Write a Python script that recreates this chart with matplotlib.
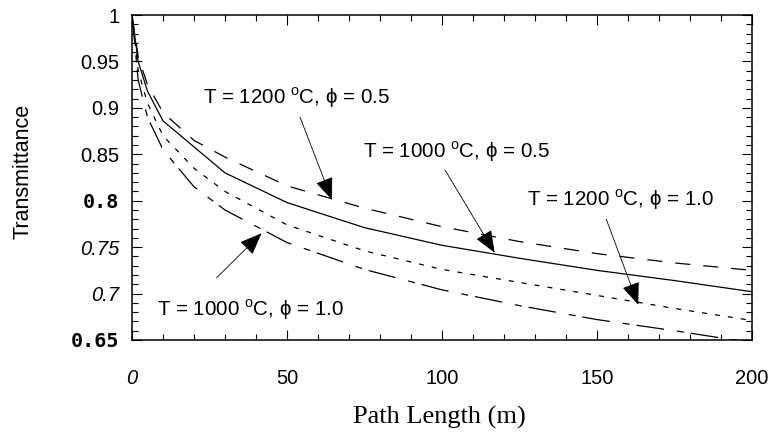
import matplotlib
matplotlib.use('Agg')
import matplotlib.pyplot as plt
from matplotlib.ticker import MultipleLocator

plt.rcParams['font.family'] = ['Liberation Sans', 'DejaVu Sans']
plt.rcParams['mathtext.fontset'] = 'custom'
plt.rcParams['mathtext.rm'] = 'Liberation Sans'
plt.rcParams['lines.scale_dashes'] = False

# path length (m)
path_len = [0, 2, 5, 10, 20, 30, 50, 75, 100, 125, 150, 175, 200]

# transmittance per case
t1200_p05 = [1.0, 0.955, 0.925, 0.895, 0.865, 0.847, 0.816, 0.792, 0.772, 0.756, 0.743, 0.733, 0.725]
t1000_p05 = [1.0, 0.950, 0.918, 0.886, 0.858, 0.830, 0.798, 0.771, 0.752, 0.738, 0.725, 0.714, 0.702]
t1200_p10 = [1.0, 0.940, 0.905, 0.870, 0.835, 0.810, 0.774, 0.746, 0.726, 0.712, 0.698, 0.684, 0.671]
t1000_p10 = [1.0, 0.930, 0.890, 0.855, 0.815, 0.790, 0.755, 0.726, 0.704, 0.687, 0.672, 0.660, 0.647]

labels = [r'T = 1200 $^{\rm o}$C, ϕ = 0.5',
          r'T = 1000 $^{\rm o}$C, ϕ = 0.5',
          r'T = 1200 $^{\rm o}$C, ϕ = 1.0',
          r'T = 1000 $^{\rm o}$C, ϕ = 1.0']

fig = plt.figure(figsize=(7.7, 4.34), dpi=100)
ax = fig.add_axes([0.1714, 0.2166, 0.8052, 0.7488])

lw = 0.9
ax.plot(path_len, t1200_p05, color='black', lw=lw, dashes=(10.8, 9.4))
ax.plot(path_len, t1000_p05, color='black', lw=lw)
ax.plot(path_len, t1200_p10, color='black', lw=lw, dashes=(3.6, 5.8))
ax.plot(path_len, t1000_p10, color='black', lw=lw, dashes=(20, 9.4, 5, 5))

ax.set_xlim(0, 200)
ax.set_ylim(0.65, 1.0)

ax.xaxis.set_major_locator(MultipleLocator(50))
ax.xaxis.set_minor_locator(MultipleLocator(10))
ax.yaxis.set_major_locator(MultipleLocator(0.05))
ax.yaxis.set_minor_locator(MultipleLocator(0.01))
ax.tick_params(which='both', direction='in', top=True, right=True, width=0.8)
ax.tick_params(which='major', length=7, labelsize=14.5)
ax.tick_params(which='minor', length=4)
ax.tick_params(axis='x', which='major', pad=21)
ax.tick_params(axis='y', which='major', pad=9)
for s in ax.spines.values():
    s.set_linewidth(1.1)

ax.set_xticks([0, 50, 100, 150, 200])
ax.set_xticklabels(['0', '50', '100', '150', '200'])
ax.get_xticklabels()[0].set_style('italic')

ax.set_yticks([0.65, 0.7, 0.75, 0.8, 0.85, 0.9, 0.95, 1.0])
ax.set_yticklabels(['0.65', '0.7', '0.75', '0.8', '0.85', '0.9', '0.95', '1'])
ylabs = ax.get_yticklabels()
for i in (0, 3):
    ylabs[i].set_family(['DejaVu Sans Mono'])
    ylabs[i].set_weight('bold')
for i in (1, 2):
    ylabs[i].set_style('italic')

ax.set_xlabel('Path Length (m)', family=['Liberation Serif'], fontsize=19, va='center')
ax.xaxis.set_label_coords(0.495, -0.237)
ax.set_ylabel('Transmittance', fontsize=15.5, va='center')
ax.yaxis.set_label_coords(-0.176, 0.52)

arrow = dict(arrowstyle='-|>,head_length=1.0,head_width=0.4', color='black', lw=0.6,
             shrinkA=0, shrinkB=0, mutation_scale=14)
fs = 14.8
ax.annotate('', xy=(64.5, 0.801), xytext=(54.2, 0.890), arrowprops=arrow)
ax.text(22.9, 0.911, labels[0], fontsize=fs, va='center')
ax.annotate('', xy=(117, 0.744), xytext=(101, 0.833), arrowprops=arrow)
ax.text(74.5, 0.853, labels[1], fontsize=fs, va='center')
ax.annotate('', xy=(163.3, 0.688), xytext=(153, 0.780), arrowprops=arrow)
ax.text(127.3, 0.801, labels[2], fontsize=fs, va='center')
ax.annotate('', xy=(41.8, 0.765), xytext=(27.3, 0.717), arrowprops=arrow)
ax.text(8, 0.683, labels[3], fontsize=fs, va='center')

fig.savefig('out.png', dpi=100)
